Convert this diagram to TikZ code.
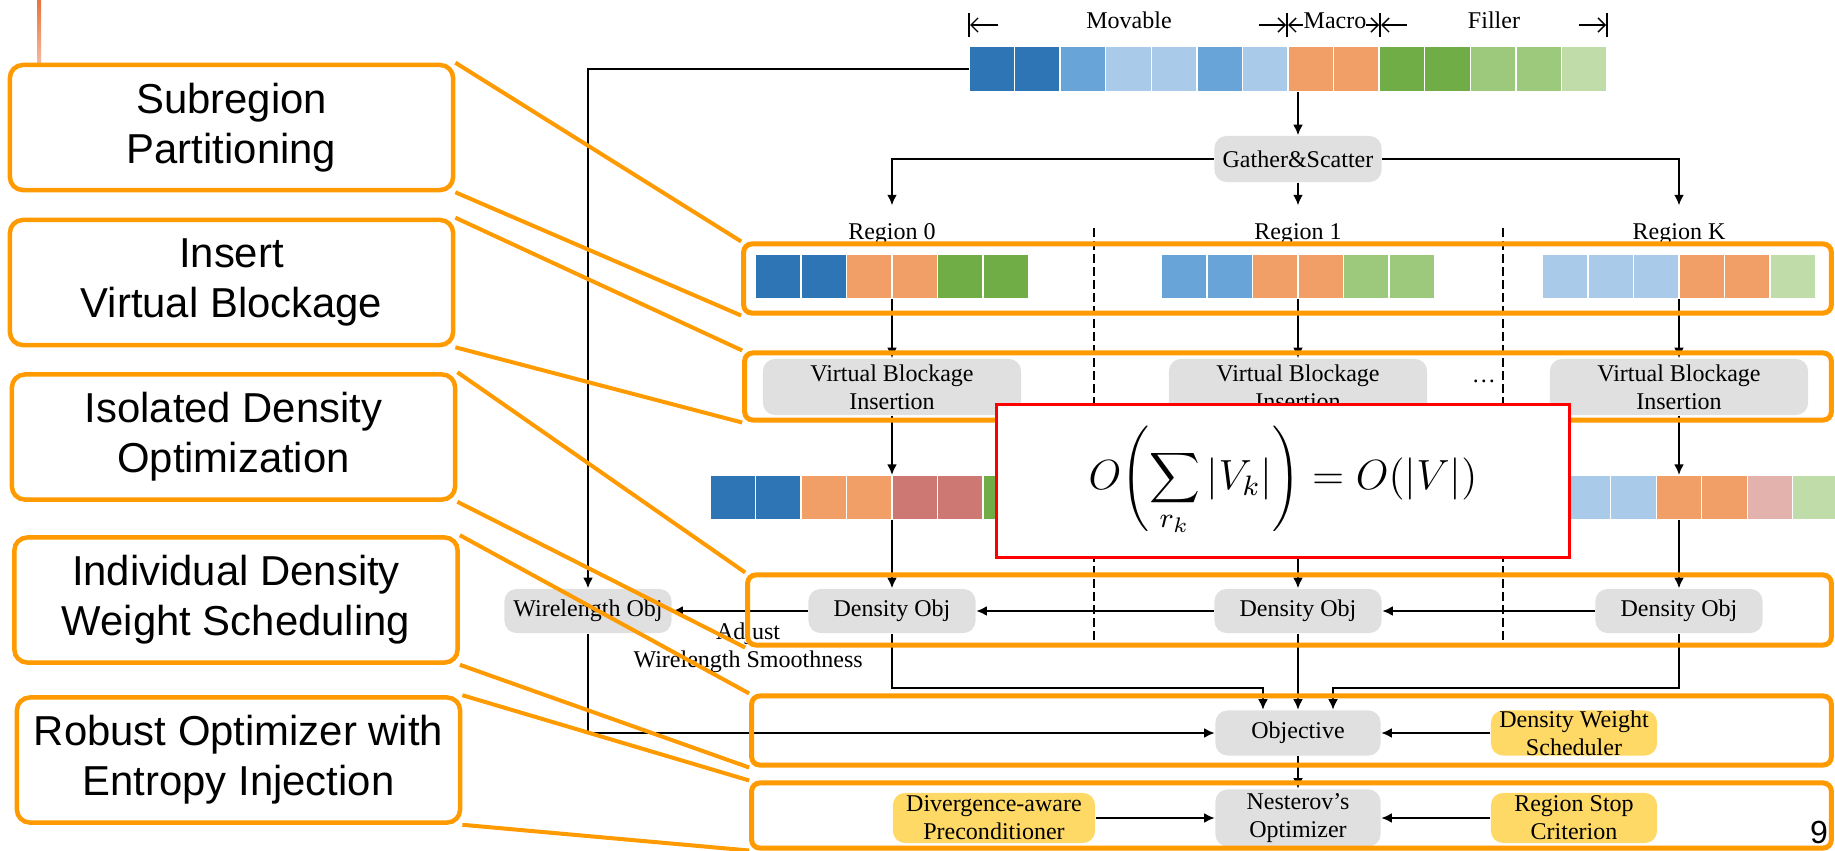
\documentclass[tikz,border=0pt]{standalone}
\usepackage{fontspec}
\setmainfont{Liberation Serif}
\setsansfont{Liberation Sans}
\usetikzlibrary{arrows.meta, positioning}

\definecolor{dkblue}{HTML}{2E75B6}
\definecolor{mdblue}{HTML}{68A4D8}
\definecolor{ltblue}{HTML}{AACAEA}
\definecolor{cellmacro}{HTML}{F19F66}
\definecolor{dkgreen}{HTML}{70AD47}
\definecolor{mdgreen}{HTML}{9DC97C}
\definecolor{ltgreen}{HTML}{C0DCA8}
\definecolor{vblock}{HTML}{CD7872}
\definecolor{vblocklt}{HTML}{E3B2AC}
\definecolor{blockgray}{HTML}{E0E0E0}
\definecolor{tooly}{HTML}{FFD966}
\definecolor{frameorange}{HTML}{FF9A00}
\definecolor{slideline}{HTML}{E8743B}

\begin{document}
\begin{tikzpicture}[
    x=0.01cm, y=-0.01cm,
    >={Latex[length=3pt,width=2.8pt]},
    every node/.style={font=\fontsize{6.83}{7.97}\selectfont},
    cell/.style={draw=white, line width=0.4pt, minimum width=0.455cm,
        minimum height=0.45cm, inner sep=0, outer sep=0, anchor=west},
    cellrow/.style={minimum height=0.45cm, inner sep=0, outer sep=0},
    block/.style={fill=blockgray, rounded corners=0.12cm, align=center,
        inner sep=0, minimum width=1.67cm, minimum height=0.44cm},
    tool/.style={block, fill=tooly, minimum width=1.66cm},
    frame/.style={draw=frameorange, line width=0.05cm, rounded corners=0.08cm,
        inner sep=0},
    callout/.style={draw=frameorange, line width=0.045cm, rounded corners=0.13cm,
        fill=white, align=center, inner sep=0, minimum width=4.43cm,
        minimum height=1.25cm, font=\sffamily\fontsize{11.9}{14.2}\selectfont},
    calllink/.style={draw=frameorange, line width=0.04cm},
    link/.style={->, line width=0.02cm},
    divider/.style={line width=0.02cm, dash pattern=on 0.09cm off 0.04cm},
    reglabel/.style={anchor=base, inner xsep=0, inner ysep=0.17cm},
    hdr/.style={-{Straight Barb[length=2pt,width=4pt]}, line width=0.4pt}
]

\useasboundingbox (0,0) rectangle (1835,851);

% slide decoration
\shade[top color=slideline, bottom color=white] (37,0) rectangle (41,125);

% -------------------------
% Cell header and cell vector
% -------------------------
\foreach \hx in {969,1287,1380,1607}
    \draw[line width=0.5pt] (\hx,13) -- (\hx,37);
\node[anchor=base] (movlbl) at (1129,28) {Movable};
\node[anchor=base] (maclbl) at (1335,28) {Macro};
\node[anchor=base] (filllbl) at (1494,28) {Filler};
\draw[hdr] (998,25) -- (970,25);
\draw[hdr] (1259,25) -- (1286,25);
\draw[hdr] (1303,25) -- (1288,25);
\draw[hdr] (1366,25) -- (1379,25);
\draw[hdr] (1407,25) -- (1381,25);
\draw[hdr] (1579,25) -- (1606,25);

\node[cellrow, minimum width=6.38cm] (allcells) at (1288,69) {};
\foreach \c [count=\i from 0] in {dkblue,dkblue,mdblue,ltblue,ltblue,mdblue,ltblue,cellmacro,cellmacro,dkgreen,dkgreen,mdgreen,mdgreen,ltgreen}
    \node[cell, minimum width=0.4557cm, fill=\c] at (969+45.57*\i,69) {};

% Gather & scatter
\node[block, minimum height=0.46cm] (gs) at (1298,159) {Gather\&Scatter};

% Region labels
\node[reglabel] (lbl0) at (892,239) {Region 0};
\node[reglabel] (lbl1) at (1298,239) {Region 1};
\node[reglabel] (lblK) at (1679,239) {Region K};

% -------------------------
% Per-region cells
% -------------------------
\node[cellrow, minimum width=2.73cm] (reg0) at (892,276.5) {};
\foreach \c [count=\i from 0] in {dkblue,dkblue,cellmacro,cellmacro,dkgreen,dkgreen}
    \node[cell, fill=\c] at (755.5+45.5*\i,276.5) {};
\node[cellrow, minimum width=2.73cm] (reg1) at (1298,276.5) {};
\foreach \c [count=\i from 0] in {mdblue,mdblue,cellmacro,cellmacro,mdgreen,mdgreen}
    \node[cell, fill=\c] at (1161.5+45.5*\i,276.5) {};
\node[cellrow, minimum width=2.73cm] (regK) at (1679,276.5) {};
\foreach \c [count=\i from 0] in {ltblue,ltblue,ltblue,cellmacro,cellmacro,ltgreen}
    \node[cell, fill=\c] at (1542.5+45.5*\i,276.5) {};

% Virtual blockage insertion
\node[block, minimum width=2.58cm, minimum height=0.56cm] (vbi0) at (892,387) {Virtual Blockage\\Insertion};
\node[block, minimum width=2.58cm, minimum height=0.56cm] (vbi1) at (1298,387) {Virtual Blockage\\Insertion};
\node[block, minimum width=2.58cm, minimum height=0.56cm] (vbiK) at (1679,387) {Virtual Blockage\\Insertion};
\node[anchor=base] (dots) at (1484,382) {\ldots};

% cells with virtual blockage
\node[cellrow, minimum width=3.64cm] (vb0) at (892,497.5) {};
\foreach \c [count=\i from 0] in {dkblue,dkblue,cellmacro,cellmacro,vblock,vblock,dkgreen,dkgreen}
    \node[cell, fill=\c] at (710+45.5*\i,497.5) {};
\node[cellrow, minimum width=3.185cm] (vbK) at (1679,497.5) {};
\foreach \c [count=\i from 0] in {ltblue,ltblue,ltblue,cellmacro,cellmacro,vblocklt,ltgreen}
    \node[cell, fill=\c] at (1519.75+45.5*\i,497.5) {};

% Objectives
\node[block] (wl) at (588,611) {Wirelength Obj};
\node[block] (dens0) at (892,611) {Density Obj};
\node[block] (dens1) at (1298,611) {Density Obj};
\node[block] (densK) at (1679,611) {Density Obj};

\node[block, minimum width=1.65cm, minimum height=0.45cm] (obj) at (1298,733) {Objective};
\node[tool, minimum height=0.45cm] (dws) at (1574,733) {Density Weight\\Scheduler};
\node[block, minimum width=1.65cm, minimum height=0.57cm] (nest) at (1298,818) {Nesterov's\\Optimizer};
\node[tool, minimum width=2.02cm, minimum height=0.50cm] (precond) at (994,818) {Divergence-aware\\Preconditioner};
\node[tool, minimum height=0.50cm] (rsc) at (1574,818) {Region Stop\\Criterion};

% -------------------------
% Connections
% -------------------------
\draw[link] (allcells.south -| gs) -- (gs);
\draw[link] (gs) -| (lbl0);
\draw[link] (gs) -- (lbl1);
\draw[link] (gs) -| (lblK);

\draw[link] (reg0) -- (vbi0);
\draw[link] (vbi0) -- (vb0);
\draw[link] (vb0) -- (dens0);
\draw[link] (reg1) -- (vbi1);
\draw[link] (vbi1) -- (dens1);
\draw[link] (regK) -- (vbiK);
\draw[link] (vbiK) -- (vbK);
\draw[link] (vbK) -- (densK);

\draw[link] (densK) -- (dens1);
\draw[link] (dens1) -- (dens0);
\draw[link] (dens0) -- node[pos=0.44, below=0.11cm, align=center, inner sep=0] {Adjust\\Wirelength Smoothness} (wl);
\draw[link] (allcells.west) -| (wl);
\draw[link] (wl) |- (obj);
\draw[link] (dens0.south) -- ++(0,54) -| ([xshift=-0.35cm]obj.north);
\draw[link] (dens1) -- (obj);
\draw[link] (densK.south) -- ++(0,54) -| ([xshift=0.35cm]obj.north);
\draw[link] (dws) -- (obj);
\draw[link] (obj) -- (nest);
\draw[link] (precond) -- (nest);
\draw[link] (rsc) -- (nest);

% region dividers
\draw[divider] (1094,228) -- (1094,645);
\draw[divider] (1503,228) -- (1503,645);

% -------------------------
% Highlight frames
% -------------------------
\node[frame, minimum width=10.87cm, minimum height=0.69cm] (fr1) at (1287.5,278.5) {};
\node[frame, minimum width=10.86cm, minimum height=0.67cm] (fr2) at (1288,386.5) {};
\node[frame, minimum width=10.83cm, minimum height=0.70cm] (fr3) at (1289.5,610) {};
\node[frame, minimum width=10.79cm, minimum height=0.69cm] (fr4) at (1291.5,730.5) {};
\node[frame, minimum width=10.79cm, minimum height=0.65cm] (fr5) at (1291.5,815.5) {};

% complexity
\node[draw=red, line width=0.03cm, fill=white, minimum width=5.72cm,
    minimum height=1.52cm, inner sep=0] (cost) at (1283,481)
    {\fontsize{12}{14}\selectfont$\displaystyle O\Biggl(\sum_{r_k}|V_k|\Biggr)=O(|V|)$};

% -------------------------
% Callouts
% -------------------------
\node[callout] (cb1) at (231.5,127.5) {Subregion\\Partitioning};
\node[callout] (cb2) at (231.5,282.5) {Insert\\Virtual Blockage};
\node[callout] (cb3) at (233.5,437) {Isolated Density\\Optimization};
\node[callout] (cb4) at (236,600) {Individual Density\\Weight Scheduling};
\node[callout] (cb5) at (238.5,760) {Robust Optimizer with\\Entropy Injection};

\foreach \k in {1,...,5} {
    \draw[calllink] (cb\k.north east) -- (fr\k.north west);
    \draw[calllink] (cb\k.south east) -- (fr\k.south west);
}

\node[font=\sffamily\fontsize{9.1}{10}\selectfont] (pagenum) at (1819,832) {9};

\end{tikzpicture}
\end{document}
